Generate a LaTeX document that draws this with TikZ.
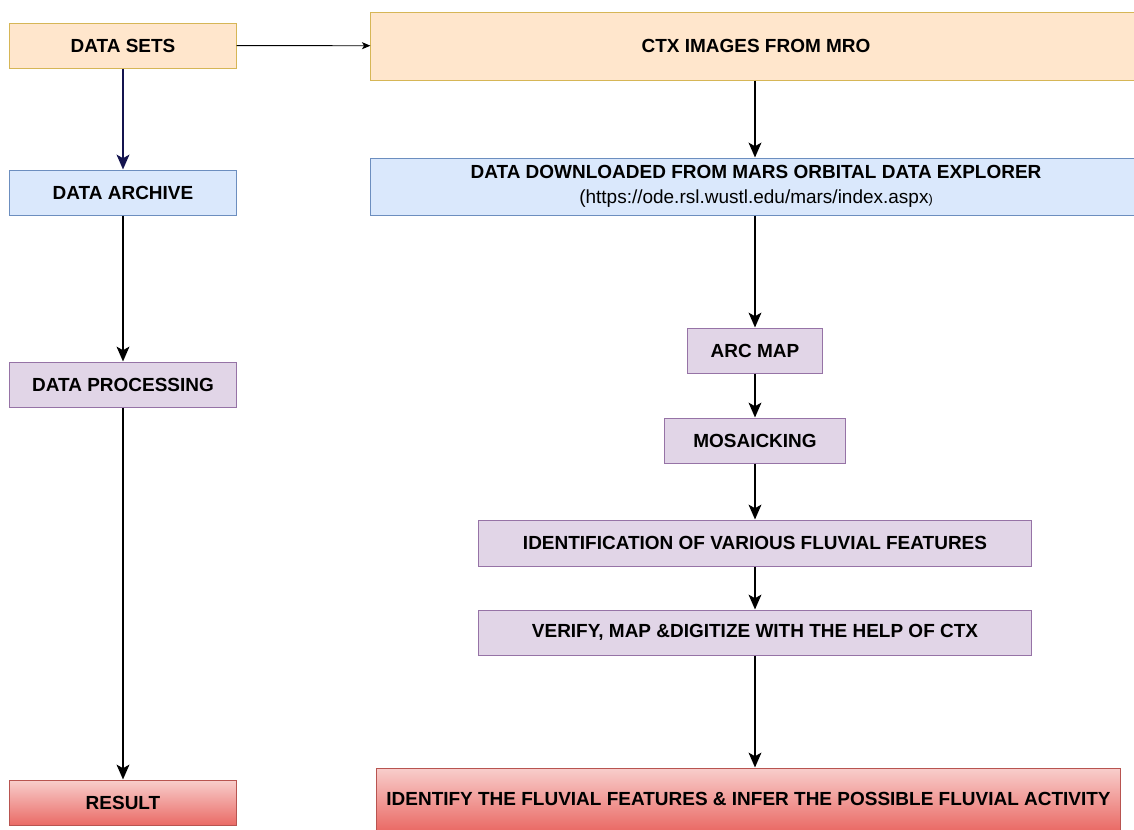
\documentclass[tikz,border=0pt]{standalone}
\usepackage{fontspec}
\setmainfont{Liberation Sans}
\usetikzlibrary{arrows.meta,shadings}
\definecolor{setfill}{HTML}{FFE6CC}\definecolor{setdraw}{HTML}{D6B656}
\definecolor{arcfill}{HTML}{DAE8FC}\definecolor{arcdraw}{HTML}{6C8EBF}
\definecolor{procfill}{HTML}{E1D5E7}\definecolor{procdraw}{HTML}{9673A6}
\definecolor{restop}{HTML}{F8CECC}\definecolor{resbot}{HTML}{EA6B66}\definecolor{resdraw}{HTML}{B85450}
\definecolor{navy}{HTML}{14144F}
\tikzstyle{box}=[rectangle,draw,line width=0.7pt,font=\bfseries\fontsize{13.5}{17.5}\selectfont,inner sep=0pt,align=center]
\tikzstyle{orangebox}=[box,fill=setfill,draw=setdraw]
\tikzstyle{bluebox}=[box,fill=arcfill,draw=arcdraw]
\tikzstyle{purplebox}=[box,fill=procfill,draw=procdraw]
\tikzstyle{redbox}=[box,top color=restop,bottom color=resbot,draw=resdraw]
\tikzstyle{flow}=[line width=1.7pt,-{Stealth[length=10.5pt,width=9pt,inset=2.5pt]}]

\begin{document}
\begin{tikzpicture}[x=0.025cm,y=-0.025cm]
    \useasboundingbox (0,0) rectangle (1134,830);

    % left column
    \node[orangebox, minimum width=5.65cm, minimum height=1.125cm] (sets) at (123,45.5) {DATA SETS};
    \node[bluebox, minimum width=5.65cm, minimum height=1.125cm] (archive) at (123,192.5) {DATA ARCHIVE};
    \node[purplebox, minimum width=5.65cm, minimum height=1.125cm] (proc) at (123,384.5) {DATA PROCESSING};
    \node[redbox, minimum width=5.65cm, minimum height=1.125cm] (result) at (123,802.5) {RESULT};

    % right column
    \node[orangebox, minimum width=19.25cm, minimum height=1.7cm] (ctx) at (756,46) {CTX IMAGES FROM MRO};
    \node[bluebox, minimum width=19.25cm, minimum height=1.425cm] (ode) at (756,186.5)
        {DATA DOWNLOADED FROM MARS ORBITAL DATA EXPLORER\\{\mdseries (https://ode.rsl.wustl.edu/mars/index.aspx{\fontsize{9}{10}\selectfont)}}};
    \node[purplebox, minimum width=3.375cm, minimum height=1.125cm] (arcmap) at (755,350.5) {ARC MAP};
    \node[purplebox, minimum width=4.5cm, minimum height=1.125cm] (mosaic) at (755,440.5) {MOSAICKING};
    \node[purplebox, minimum width=13.825cm, minimum height=1.15cm] (ident) at (755,543) {IDENTIFICATION OF VARIOUS FLUVIAL FEATURES};
    \node[purplebox, minimum width=13.825cm, minimum height=1.125cm] (verify) at (755,632.5) {VERIFY, MAP \&DIGITIZE WITH THE HELP OF CTX};
    \node[redbox, minimum width=18.575cm, minimum height=1.55cm] (infer) at (748.5,799) {IDENTIFY THE FLUVIAL FEATURES \& INFER THE POSSIBLE FLUVIAL ACTIVITY};

    % connectors
    \draw[line width=0.6pt, -{Stealth[length=6pt,width=5pt,inset=1.5pt]}] (sets) -- (ctx);
    \draw[flow, navy] (sets) -- (archive);
    \draw[flow] (archive) -- (proc);
    \draw[flow] (proc) -- (result);

    \draw[flow] (ctx.south -| arcmap.north) -- (ode.north -| arcmap.north);
    \draw[flow] (ode.south -| arcmap.north) -- (arcmap);
    \draw[flow] (arcmap) -- (mosaic);
    \draw[flow] (mosaic) -- (ident);
    \draw[flow] (ident) -- (verify);
    \draw[flow] (verify) -- (verify |- infer.north);

\end{tikzpicture}
\end{document}
